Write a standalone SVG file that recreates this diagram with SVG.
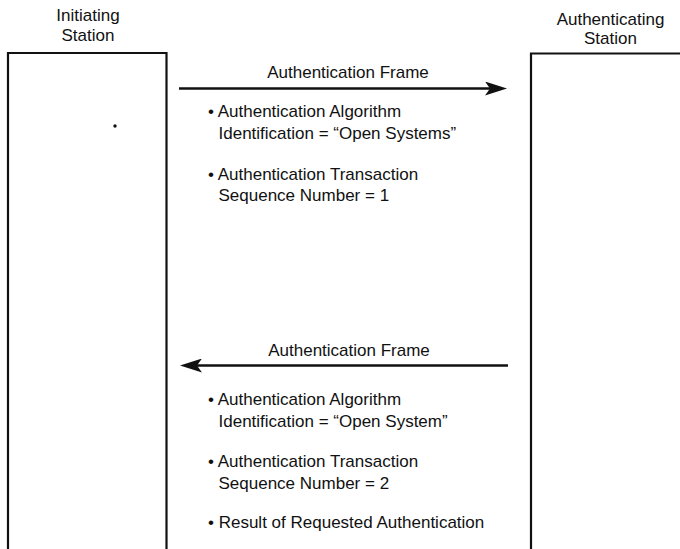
<svg xmlns="http://www.w3.org/2000/svg" width="680" height="549" viewBox="0 0 680 549">
  <style>
    .lbl { font-family: "Liberation Sans", Arial, sans-serif; font-size: 17px; fill: #111; }
    .mid { text-anchor: middle; }
    .box { fill: none; stroke: #111; stroke-width: 2.2; }
    .msg { fill: none; stroke: #111; stroke-width: 2.7; marker-end: url(#head); }
  </style>
  <defs>
    <marker id="head" markerUnits="userSpaceOnUse" viewBox="0 0 22 14" markerWidth="22" markerHeight="14" refX="14" refY="7" orient="auto">
      <path d="M0,0 L22,7 L0,14 L5,7 Z" fill="#111"/>
    </marker>
  </defs>
  <rect width="680" height="549" fill="#fff"/>

  <!-- Left station: open-bottomed frame -->
  <g id="initiating-station">
    <text class="lbl mid" x="88" y="21">Initiating</text>
    <text class="lbl mid" x="88" y="40.5">Station</text>
    <path class="box" d="M8,549 V53 H166.5 V549"/>
    <circle cx="115" cy="126" r="1.7" fill="#111"/>
  </g>

  <!-- Right station: frame running off the right edge -->
  <g id="authenticating-station">
    <text class="lbl mid" x="610.5" y="25">Authenticating</text>
    <text class="lbl mid" x="610.5" y="43.5">Station</text>
    <path class="box" d="M531,549 V53.5 H680"/>
  </g>

  <!-- Message arrows -->
  <g id="connectors">
    <line class="msg" x1="179" y1="88.5" x2="499" y2="88.5"/>
    <line class="msg" x1="508" y1="365.5" x2="188" y2="365.5"/>
  </g>

  <!-- Request frame contents -->
  <g id="request-frame">
    <text class="lbl mid" x="348" y="78">Authentication Frame</text>
    <text class="lbl" x="208" y="117">• Authentication Algorithm</text>
    <text class="lbl" x="218.5" y="139">Identification = “Open Systems”</text>
    <text class="lbl" x="208" y="179.5">• Authentication Transaction</text>
    <text class="lbl" x="218.5" y="200.5">Sequence Number = 1</text>
  </g>

  <!-- Response frame contents -->
  <g id="response-frame">
    <text class="lbl mid" x="349" y="355.5">Authentication Frame</text>
    <text class="lbl" x="208" y="404.5">• Authentication Algorithm</text>
    <text class="lbl" x="218.5" y="426.5">Identification = “Open System”</text>
    <text class="lbl" x="208" y="467">• Authentication Transaction</text>
    <text class="lbl" x="218.5" y="489">Sequence Number = 2</text>
    <text class="lbl" x="208" y="528">• Result of Requested Authentication</text>
  </g>
</svg>
